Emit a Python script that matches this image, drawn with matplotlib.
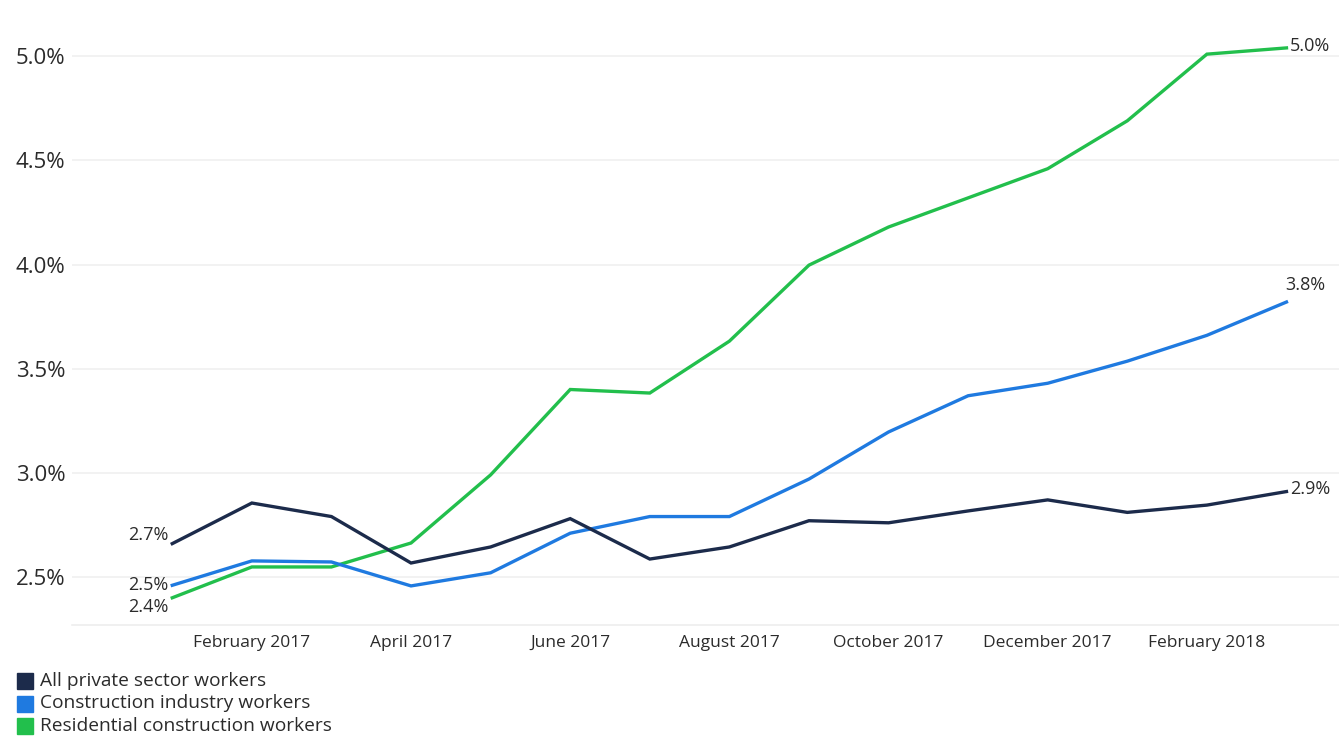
import numpy as np
import matplotlib
matplotlib.use("Agg")
import matplotlib.pyplot as plt

plt.rcParams["font.family"] = ["Open Sans", "DejaVu Sans"]

months = ["January 2017", "February 2017", "March 2017", "April 2017", "May 2017",
          "June 2017", "July 2017", "August 2017", "September 2017", "October 2017",
          "November 2017", "December 2017", "January 2018", "February 2018", "March 2018"]
all_private = [2.66, 2.855, 2.79, 2.567, 2.644, 2.78, 2.586, 2.644, 2.77, 2.76,
               2.817, 2.87, 2.81, 2.845, 2.91]
construction = [2.46, 2.577, 2.572, 2.457, 2.52, 2.71, 2.79, 2.79, 2.97, 3.196,
                3.37, 3.43, 3.536, 3.66, 3.82]
residential = [2.40, 2.548, 2.548, 2.663, 2.99, 3.40, 3.383, 3.632, 3.997, 4.18,
               4.32, 4.46, 4.69, 5.01, 5.04]
yticks = [2.5, 3.0, 3.5, 4.0, 4.5, 5.0]

NAVY, BLUE, GREEN = "#1c2b4b", "#1f7ae0", "#22bf4c"
TXT = "#2b2b2b"

fig = plt.figure(figsize=(13.39, 7.36), dpi=100)
ax = fig.add_axes([0.054, 0.151, 0.946, 0.849])
x = np.arange(len(months))

for y in yticks:
    ax.axhline(y, color="#f0f0f0", lw=1.2, zorder=0)

ax.plot(x, residential, color=GREEN, lw=2.4, solid_joinstyle="miter")
ax.plot(x, construction, color=BLUE, lw=2.4, solid_joinstyle="miter")
ax.plot(x, all_private, color=NAVY, lw=2.4, solid_joinstyle="miter")

ax.set_xlim(-1.256, 14.66)
ax.set_ylim(2.27, 5.27)
ax.set_yticks(yticks)
ax.set_yticklabels([f"{v:.1f}%" for v in yticks], fontsize=16, color=TXT)
ax.set_xticks(x[1::2])
ax.set_xticklabels(months[1::2], fontsize=12.5, color=TXT)
ax.tick_params(length=0, axis="y", pad=5)
ax.tick_params(length=0, axis="x", pad=7)
for s in ["top", "right", "left"]:
    ax.spines[s].set_visible(False)
ax.spines["bottom"].set_color("#eeeeee")
ax.spines["bottom"].set_linewidth(1.2)

# start / end value labels
kw = dict(fontsize=13, color=TXT)
ax.text(-0.05, all_private[0] + 0.04, f"{all_private[0]:.1f}%", ha="right", va="center", **kw)
ax.text(-0.05, construction[0] + 0.0, f"{construction[0]:.1f}%", ha="right", va="center", **kw)
ax.text(-0.05, residential[0] - 0.045, f"{residential[0]:.1f}%", ha="right", va="center", **kw)
ax.text(14.04, residential[-1] + 0.01, f"{residential[-1]:.1f}%", ha="left", va="center", **kw)
ax.text(13.98, construction[-1] + 0.08, f"{construction[-1]:.1f}%", ha="left", va="center", **kw)
ax.text(14.04, all_private[-1] + 0.01, f"{all_private[-1]:.1f}%", ha="left", va="center", **kw)

# legend
labels = ["All private sector workers", "Construction industry workers",
          "Residential construction workers"]
for i, (lab, c) in enumerate(zip(labels, [NAVY, BLUE, GREEN])):
    yy = 1 - 681 / 736 - i * 22.5 / 736
    fig.patches.append(plt.Rectangle((17 / 1339, yy - 8 / 736), 16 / 1339, 16 / 736,
                                     transform=fig.transFigure, color=c))
    fig.text(40 / 1339, yy, lab, fontsize=13.8, color=TXT, va="center")

fig.savefig("out.png", dpi=100)
